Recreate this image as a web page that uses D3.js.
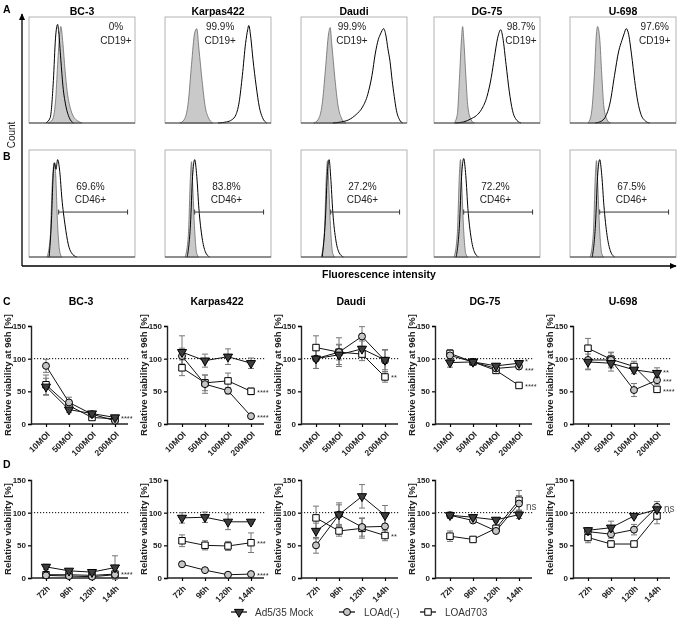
<!DOCTYPE html>
<html><head><meta charset="utf-8">
<script src="https://cdn.jsdelivr.net/npm/d3@7"></script>
<style>
html,body{margin:0;padding:0;background:#fff;}
svg{display:block;font-family:"Liberation Sans",Arial,sans-serif;will-change:transform;}
</style></head>
<body><svg id="fig" width="677" height="625"></svg>
<script>
// ---------------- DATA ----------------
const cellLines = ["BC-3", "Karpas422", "Daudi", "DG-75", "U-698"];
const cd19Pct = ["0%", "99.9%", "99.9%", "98.7%", "97.6%"];
const cd46Pct = ["69.6%", "83.8%", "27.2%", "72.2%", "67.5%"];
const cd19TextX = [82, 52, 48, 82, 80];
const gateRange = [28, 93];

// histograms: [intensity (0-100), count (% of max box height)]
const cd19Control = [
  [[18,0],[22,3],[25,20],[27,55],[29,85],[30,91],[32,75],[34,50],[36,30],[39,14],[42,6],[46,2],[50,0]],
  [[14,0],[18,3],[22,20],[25,55],[28,85],[30,89],[32,70],[35,40],[38,15],[41,5],[45,0]],
  [[12,0],[16,3],[20,18],[23,50],[26,84],[27.5,90],[29,75],[32,42],[35,16],[38,5],[42,0]],
  [[19,0],[22,8],[24,42],[26,80],[27,91],[28,80],[30,45],[32,15],[35,3],[38,0]],
  [[17,0],[20,8],[23,45],[25,85],[26,91],[28,80],[30,45],[32,15],[35,3],[38,0]]
];
const cd19Stained = [
  [[16,0],[20,5],[23,40],[25,80],[27,93],[28,86],[30,60],[32,35],[35,15],[38,5],[42,0]],
  [[50,0],[58,1],[63,3],[67,8],[70,20],[73,45],[76,75],[78,88],[79,92],[81,80],[83,60],[86,35],[89,15],[92,5],[96,0]],
  [[30,0],[38,1],[45,3],[52,8],[58,15],[63,27],[67,45],[70,65],[73,79],[75,84],[78,89],[80,83],[82,70],[84,58],[86,40],[88,25],[90,12],[93,3],[96,0]],
  [[20,0],[28,1],[35,4],[40,7],[45,13],[50,25],[54,43],[57,62],[60,80],[63,88],[65,80],[68,55],[71,30],[74,12],[77,4],[82,0]],
  [[24,0],[30,2],[34,7],[38,20],[42,45],[46,68],[49,78],[51,84],[53,89],[55,85],[58,65],[61,40],[64,20],[67,8],[71,2],[75,0]]
];
const cd46Control = [
  [[17,0],[20,18],[22,70],[24,88],[25,80],[27,30],[29,5],[31,0]],
  [[19,0],[22,20],[24,75],[25,89],[26,70],[28,25],[30,3],[32,0]],
  [[19,0],[22,22],[24,78],[25,90],[26,72],[28,25],[30,3],[32,0]],
  [[19,0],[22,22],[24,78],[25,91],[26,72],[28,25],[30,3],[32,0]],
  [[19,0],[22,22],[24,78],[25,90],[26,72],[28,25],[30,3],[32,0]]
];
const cd46Stained = [
  [[19,0],[21,30],[23,80],[24,88],[25.5,82],[27,91],[29,80],[31,55],[34,30],[37,12],[40,4],[45,0]],
  [[21,0],[24,30],[26,75],[28,91],[30,75],[32,45],[35,18],[38,5],[42,0]],
  [[20,0],[23,35],[25,80],[26.5,91],[28,75],[30,42],[33,15],[36,4],[40,0]],
  [[21,0],[24,30],[26,75],[28,92],[30,76],[32,45],[35,18],[38,5],[42,0]],
  [[21,0],[24,30],[26,75],[28,91],[30,76],[32,48],[35,20],[38,6],[42,0]]
];

// viability
const moiLabels = ["10MOI", "50MOI", "100MOI", "200MOI"];
const timeLabels = ["72h", "96h", "120h", "144h"];
const yTicks = [0, 50, 100, 150];
const seriesNames = ["Ad5/35 Mock", "LOAd(-)", "LOAd703"];

const mockMOI        = [[57,22,16,10],[110,97,103,93],[100,106,115,98],[94,95,89,93],[95,93,83,78]];
const mockMOIErr     = [[13,4,3,2],[25,10,12,8],[15,15,12,15],[7,3,3,4],[12,12,6,8]];
const loadMinusMOI   = [[89,33,15,5],[104,61,51,12],[100,110,134,97],[105,95,85,88],[98,98,52,67]];
const loadMinusMOIErr= [[10,8,3,2],[12,14,5,2],[15,22,15,17],[6,3,3,3],[14,12,10,6]];
const load703MOI     = [[60,28,10,8],[86,63,66,50],[117,110,107,72],[108,95,82,59],[116,99,88,53]];
const load703MOIErr  = [[15,6,3,2],[12,12,12,5],[18,12,10,8],[6,3,4,3],[15,10,8,4]];

const mockTime        = [[17,11,9,16],[92,93,86,86],[72,97,125,96],[96,93,89,97],[73,77,95,105]];
const mockTimeErr     = [[4,3,3,18],[8,8,12,3],[12,18,18,15],[5,3,3,6],[4,10,3,5]];
const loadMinusTime   = [[4,3,2,5],[21,12,5,6],[50,97,78,79],[96,88,72,114],[71,67,74,109]];
const loadMinusTimeErr= [[2,1,1,2],[2,2,1,1],[12,15,14,15],[4,3,4,12],[4,6,8,8]];
const load703Time     = [[5,5,4,6],[57,50,49,54],[92,72,76,65],[64,59,76,119],[62,52,52,95]];
const load703TimeErr  = [[3,2,2,4],[9,7,7,15],[18,8,15,8],[8,3,5,15],[8,5,3,12]];

// significance: [series index, label, optional label level]
const sigMOI = [
  [[0,"****"]],
  [[2,"****"],[1,"****"]],
  [[2,"**"]],
  [[0,"*",97],[1,"***",84],[2,"****"]],
  [[0,"**",81],[1,"***",67],[2,"****",52]]
];
const sigTime = [
  [[0,"****",7]],
  [[2,"***"],[1,"****"]],
  [[2,"**"]],
  [[3,"ns",108]],
  [[3,"ns",105]]
];

// ---------------- DRAW ----------------
const svg = d3.select("#fig");
const boxX = [29, 165, 301, 434, 570];
const boxW = 106;
const axX = [31, 167, 301, 435, 573];

function letter(t, x, y) {
  svg.append("text").attr("x", x).attr("y", y).attr("font-weight", "bold")
    .attr("font-size", 10.5).text(t);
}
letter("A", 3, 13); letter("B", 3, 160); letter("C", 3, 305); letter("D", 3, 468);

// arrows
const defs = svg.append("defs");
defs.append("marker").attr("id", "arr").attr("viewBox", "0 0 10 10").attr("refX", 9).attr("refY", 5)
  .attr("markerWidth", 7).attr("markerHeight", 7).attr("markerUnits", "userSpaceOnUse")
  .attr("orient", "auto")
  .append("path").attr("d", "M0,0.5L10,5L0,9.5Z").attr("fill", "#000");
svg.append("line").attr("x1", 22).attr("y1", 266).attr("x2", 22).attr("y2", 14)
  .attr("stroke", "#000").attr("stroke-width", 1.3).attr("marker-end", "url(#arr)");
svg.append("line").attr("x1", 22).attr("y1", 266).attr("x2", 676).attr("y2", 266)
  .attr("stroke", "#000").attr("stroke-width", 1.3).attr("marker-end", "url(#arr)");
svg.append("text").attr("transform", "translate(15,135) rotate(-90)").attr("text-anchor", "middle")
  .attr("font-size", 10).attr("fill", "#222").text("Count");
svg.append("text").attr("x", 322).attr("y", 278).attr("font-weight", "bold")
  .attr("font-size", 10.5).text("Fluorescence intensity");

function histPanel(i, top, bottom, ctrl, stain, labels, textX, textYs, gate) {
  const x = d3.scaleLinear().domain([0, 100]).range([boxX[i], boxX[i] + boxW]);
  const y = d3.scaleLinear().domain([0, 100]).range([bottom, top]);
  const g = svg.append("g");
  g.append("rect").attr("x", boxX[i]).attr("y", top).attr("width", boxW).attr("height", bottom - top)
    .attr("fill", "none").attr("stroke", "#b3b3b3").attr("stroke-width", 1);
  const area = d3.area().x(d => x(d[0])).y0(y(0)).y1(d => y(d[1])).curve(d3.curveMonotoneX);
  const line = d3.line().x(d => x(d[0])).y(d => y(d[1])).curve(d3.curveMonotoneX);
  g.append("path").attr("d", area(ctrl)).attr("fill", "#c9c9c9").attr("stroke", "#6a6a6a").attr("stroke-width", 0.8);
  g.append("path").attr("d", line(stain)).attr("fill", "none").attr("stroke", "#000").attr("stroke-width", 1);
  g.append("line").attr("x1", boxX[i]).attr("x2", boxX[i] + boxW).attr("y1", bottom).attr("y2", bottom)
    .attr("stroke", "#444").attr("stroke-width", 1);
  labels.forEach((t, k) => {
    g.append("text").attr("x", x(textX)).attr("y", textYs[k]).attr("text-anchor", "middle")
      .attr("font-size", 10).attr("fill", "#222").text(t);
  });
  if (gate) {
    const gy = y(gate.h);
    g.append("line").attr("x1", x(gate.r[0])).attr("x2", x(gate.r[1])).attr("y1", gy).attr("y2", gy)
      .attr("stroke", "#333").attr("stroke-width", 1);
    gate.r.forEach(v => g.append("line").attr("x1", x(v)).attr("x2", x(v)).attr("y1", gy - 2.5).attr("y2", gy + 2.5)
      .attr("stroke", "#333").attr("stroke-width", 1));
  }
}

cellLines.forEach((c, i) => {
  svg.append("text").attr("x", boxX[i] + boxW / 2).attr("y", 15).attr("text-anchor", "middle")
    .attr("font-weight", "bold").attr("font-size", 10.5).text(c);
  histPanel(i, 17, 123, cd19Control[i], cd19Stained[i], [cd19Pct[i], "CD19+"], cd19TextX[i], [30, 44], null);
  histPanel(i, 150, 257, cd46Control[i], cd46Stained[i], [cd46Pct[i], "CD46+"], 58, [190, 203],
    { r: gateRange, h: 42 });
});

// viability panels
const markerSym = [
  d3.symbol().type(d3.symbolTriangle).size(36),
  d3.symbol().type(d3.symbolCircle).size(38),
  d3.symbol().type(d3.symbolSquare).size(42)
];
const markerFill = ["#3d3d3d", "#c6c6c6", "#ffffff"];

function drawMarker(g, s, cx, cy) {
  g.append("path").attr("d", markerSym[s]())
    .attr("transform", `translate(${cx},${cy})` + (s === 0 ? " rotate(180)" : ""))
    .attr("fill", markerFill[s]).attr("stroke", "#000").attr("stroke-width", 1);
}

function vPanel(i, y0, cats, series, errs, sigs, ylabel, title) {
  const y = d3.scaleLinear().domain([0, 150]).range([y0, y0 - 98]);
  const x = d3.scalePoint().domain(cats).range([axX[i] + 15, axX[i] + 84]);
  const g = svg.append("g");
  if (title) {
    g.append("text").attr("x", axX[i] + 50).attr("y", 305).attr("text-anchor", "middle")
      .attr("font-weight", "bold").attr("font-size", 10.5).text(title);
  }
  // dotted 100
  g.append("line").attr("x1", axX[i]).attr("x2", axX[i] + 98).attr("y1", y(100)).attr("y2", y(100))
    .attr("stroke", "#000").attr("stroke-width", 1).attr("stroke-dasharray", "1.2,1.8");
  // y axis
  const ya = g.append("g").attr("transform", `translate(${axX[i]},0)`)
    .call(d3.axisLeft(y).tickValues(yTicks).tickSize(3).tickPadding(2));
  ya.select(".domain").attr("stroke-width", 1.4).attr("stroke", "#222");
  ya.selectAll(".tick line").attr("stroke-width", 1.2);
  ya.selectAll("text").attr("font-family", "Liberation Sans, Arial, sans-serif").attr("font-size", 8)
    .attr("font-weight", "bold").attr("fill", "#222");
  // x axis
  const xa = g.append("g").attr("transform", `translate(0,${y0})`)
    .call(d3.axisBottom(x).tickSize(3).tickSizeOuter(0));
  xa.select(".domain").attr("d", `M${axX[i]},0H${axX[i] + 97}`).attr("stroke-width", 1.4).attr("stroke", "#222");
  xa.selectAll(".tick line").attr("stroke-width", 1.2);
  xa.selectAll("text").attr("font-family", "Liberation Sans, Arial, sans-serif").attr("font-size", 8.5)
    .attr("font-weight", "bold").attr("fill", "#222")
    .attr("text-anchor", "end").attr("dy", null).attr("y", null)
    .attr("transform", "translate(4,11) rotate(-45)");
  // y label
  g.append("text").attr("transform", `translate(${axX[i] - 20},${y0 - 49}) rotate(-90)`)
    .attr("text-anchor", "middle").attr("font-weight", "bold").attr("font-size", 9.5)
    .attr("fill", "#222").text(ylabel);
  // series: lines, error bars, markers
  const line = d3.line().x((d, k) => x(cats[k])).y(d => y(d));
  series.forEach((vals, s) => {
    vals.forEach((v, k) => {
      const cx = x(cats[k]), e = errs[s][k];
      g.append("line").attr("x1", cx).attr("x2", cx).attr("y1", y(v - e)).attr("y2", y(v + e))
        .attr("stroke", "#777").attr("stroke-width", 1);
      [v - e, v + e].forEach(b => g.append("line").attr("x1", cx - 3).attr("x2", cx + 3)
        .attr("y1", y(b)).attr("y2", y(b)).attr("stroke", "#777").attr("stroke-width", 1));
    });
  });
  series.forEach((vals, s) => {
    g.append("path").attr("d", line(vals)).attr("fill", "none").attr("stroke", "#111").attr("stroke-width", 1);
  });
  [2, 1, 0].forEach(s => series[s].forEach((v, k) => drawMarker(g, s, x(cats[k]), y(v))));
  // significance
  const lastX = x(cats[cats.length - 1]);
  sigs.forEach(sg => {
    const s = sg[0], t = sg[1];
    const v = sg.length > 2 ? sg[2] : series[s][cats.length - 1];
    const ns = t === "ns";
    g.append("text").attr("x", lastX + (ns ? 7 : 6)).attr("y", y(v) + (ns ? 3 : 3.5))
      .attr("font-size", ns ? 10 : 7.5).attr("fill", ns ? "#555" : "#333").text(t);
  });
}

cellLines.forEach((c, i) => {
  vPanel(i, 424, moiLabels, [mockMOI[i], loadMinusMOI[i], load703MOI[i]],
    [mockMOIErr[i], loadMinusMOIErr[i], load703MOIErr[i]], sigMOI[i], "Relative viability at 96h [%]", c);
  vPanel(i, 578, timeLabels, [mockTime[i], loadMinusTime[i], load703Time[i]],
    [mockTimeErr[i], loadMinusTimeErr[i], load703TimeErr[i]], sigTime[i], "Relative viability [%]", null);
});

// legend
const legX = [239, 347, 428];
const legTX = [255, 364, 445];
const lg = svg.append("g");
seriesNames.forEach((n, s) => {
  lg.append("line").attr("x1", legX[s] - 8).attr("x2", legX[s] + 8).attr("y1", 612).attr("y2", 612)
    .attr("stroke", "#111").attr("stroke-width", 1.3);
  drawMarker(lg, s, legX[s], 612);
  lg.append("text").attr("x", legTX[s]).attr("y", 616).attr("font-size", 10).attr("fill", "#333").text(n);
});
</script></body></html>
